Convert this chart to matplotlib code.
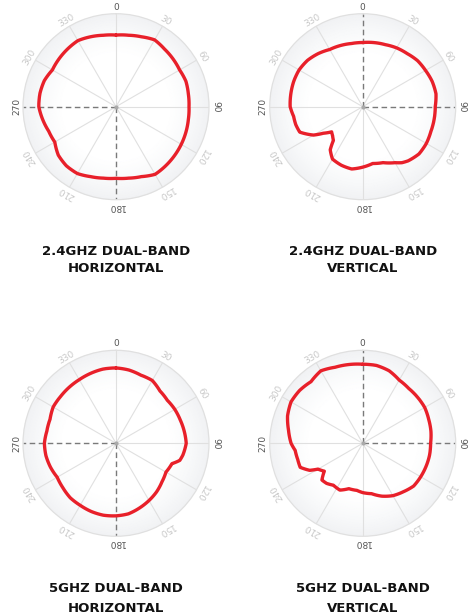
import numpy as np
import matplotlib
matplotlib.use("Agg")
import matplotlib.pyplot as plt
from matplotlib.colors import LinearSegmentedColormap

# ---------------- data ----------------
tick_angles = [0, 30, 60, 90, 120, 150, 180, 210, 240, 270, 300, 330]
tick_labels = ["0", "30", "60", "90", "120", "150", "180", "210", "240", "270", "300", "330"]
major_ticks = ["0", "90", "180", "270"]

titles = [
    "2.4GHZ DUAL-BAND\nHORIZONTAL",
    "2.4GHZ DUAL-BAND\nVERTICAL",
    "5GHZ DUAL-BAND\nHORIZONTAL",
    "5GHZ DUAL-BAND\nVERTICAL",
]

h24_angles = [0, 10, 20, 30, 40, 50, 60, 70, 80, 90, 100, 110, 120, 130, 140, 150, 160, 170,
              180, 190, 200, 210, 220, 230, 240, 250, 260, 270, 280, 290, 300, 310, 320, 330, 340, 350]
h24_r = [0.77, 0.78, 0.80, 0.83, 0.81, 0.80, 0.79, 0.80, 0.79, 0.785, 0.79, 0.80, 0.81, 0.82,
         0.83, 0.84, 0.80, 0.78, 0.77, 0.78, 0.80, 0.83, 0.83, 0.81, 0.76, 0.77, 0.80, 0.83,
         0.83, 0.82, 0.79, 0.80, 0.81, 0.82, 0.80, 0.78]

v24_angles = [0, 10, 20, 30, 40, 50, 60, 70, 80, 90, 100, 110, 120, 130, 140, 145, 150, 160, 170,
              180, 190, 200, 210, 217, 221, 226, 231, 236, 240, 248, 255, 262, 270, 280, 290, 300,
              310, 320, 330, 340, 350]
v24_r = [0.69, 0.70, 0.71, 0.73, 0.745, 0.77, 0.78, 0.795, 0.80, 0.78, 0.78, 0.78, 0.79, 0.79,
         0.76, 0.735, 0.695, 0.64, 0.62, 0.65, 0.68, 0.67, 0.65, 0.58, 0.48, 0.45, 0.43, 0.51,
         0.61, 0.73, 0.745, 0.75, 0.78, 0.785, 0.79, 0.79, 0.775, 0.745, 0.71, 0.70, 0.69]

h5_angles = [0, 10, 20, 30, 40, 50, 60, 70, 80, 90, 100, 105, 110, 120, 130, 140, 150, 160, 170,
             180, 190, 200, 210, 220, 230, 240, 250, 260, 270, 280, 290, 300, 310, 320, 330, 340, 350]
h5_r = [0.81, 0.80, 0.78, 0.78, 0.735, 0.72, 0.73, 0.735, 0.745, 0.755, 0.73, 0.71, 0.64, 0.62,
        0.645, 0.68, 0.71, 0.74, 0.77, 0.78, 0.785, 0.78, 0.77, 0.765, 0.745, 0.73, 0.75, 0.765,
        0.77, 0.755, 0.755, 0.78, 0.78, 0.785, 0.79, 0.80, 0.81]

v5_angles = [0, 10, 20, 30, 40, 50, 60, 70, 80, 90, 100, 110, 120, 130, 140, 150, 160, 170, 180,
             187, 197, 206, 215, 222, 228, 234, 240, 243, 249, 256, 264, 270, 280, 290, 300, 310,
             320, 330, 340, 350]
v5_r = [0.85, 0.85, 0.83, 0.785, 0.77, 0.77, 0.77, 0.755, 0.745, 0.73, 0.73, 0.725, 0.72, 0.715,
        0.68, 0.65, 0.605, 0.55, 0.53, 0.51, 0.51, 0.56, 0.55, 0.58, 0.59, 0.51, 0.555, 0.64,
        0.72, 0.72, 0.73, 0.77, 0.81, 0.86, 0.89, 0.885, 0.865, 0.90, 0.87, 0.86]

series = [(h24_angles, h24_r), (v24_angles, v24_r), (h5_angles, h5_r), (v5_angles, v5_r)]
dashed_spokes = [[180, 270], [0, 90], [180, 270], [0, 90]]

# ---------------- layout ----------------
W, H = 471, 615
fig = plt.figure(figsize=(W / 100, H / 100), dpi=100)
fig.patch.set_facecolor("white")

centers = [(116, 106.7), (362.7, 106.7), (116, 443.3), (362.7, 443.3)]
R = 93
title_y = [(251, 269), (251, 269), (589, 608), (589, 608)]

grad = LinearSegmentedColormap.from_list("g", ["#ffffff", "#ffffff", "#f8f9fa", "#f1f2f4"])

for i, (cx, cy) in enumerate(centers):
    ax = fig.add_axes([(cx - R) / W, (H - cy - R) / H, 2 * R / W, 2 * R / H], projection="polar")
    ax.set_theta_zero_location("N")
    ax.set_theta_direction(-1)
    ax.set_ylim(0, 1)
    ax.grid(False)
    ax.set_xticks([])
    ax.set_yticks([])
    ax.set_facecolor("none")
    ax.spines["polar"].set_color("#e0e0e0")
    ax.spines["polar"].set_linewidth(0.9)

    # radial gradient background
    th = np.linspace(0, 2 * np.pi, 181)
    rr = np.linspace(0, 1, 60)
    TH, RR = np.meshgrid(th, rr)
    ax.pcolormesh(TH, RR, RR ** 2, cmap=grad, shading="gouraud", zorder=0, rasterized=True)

    # spokes
    for a in tick_angles:
        if a in dashed_spokes[i]:
            ax.plot([np.deg2rad(a)] * 2, [0, 1], color="#7a7a7a", lw=1.0,
                    dashes=(4, 2.5), zorder=2)
        else:
            ax.plot([np.deg2rad(a)] * 2, [0, 1], color="#e0e0e0", lw=0.8, zorder=1)
    ax.plot([0], [0], "o", color="#aaaaaa", ms=2, zorder=3)

    # tick labels
    for a, lab in zip(tick_angles, tick_labels):
        col = "#555555" if lab in major_ticks else "#c8c8c8"
        ax.text(np.deg2rad(a), 1.07, lab, rotation=-a, rotation_mode="anchor",
                ha="center", va="center", fontsize=6.5, color=col, clip_on=False)

    # pattern (closed curve, drawn as polar arcs between the points)
    ang, rad = series[i]
    t = np.deg2rad(list(ang) + [ang[0] + 360])
    r = list(rad) + [rad[0]]
    line, = ax.plot(t, r, color="#e8202a", lw=2.4, solid_joinstyle="round",
                    solid_capstyle="round", zorder=4)
    line.get_path()._interpolation_steps = 12

    # title
    l1, l2 = titles[i].split("\n")
    fig.text(cx / W, 1 - title_y[i][0] / H, l1, ha="center", va="center",
             fontsize=9.5, fontweight="bold", color="#111111", family="DejaVu Sans")
    fig.text(cx / W, 1 - title_y[i][1] / H, l2, ha="center", va="center",
             fontsize=9.5, fontweight="bold", color="#111111", family="DejaVu Sans")

fig.savefig("out.png", dpi=100, facecolor="white")
